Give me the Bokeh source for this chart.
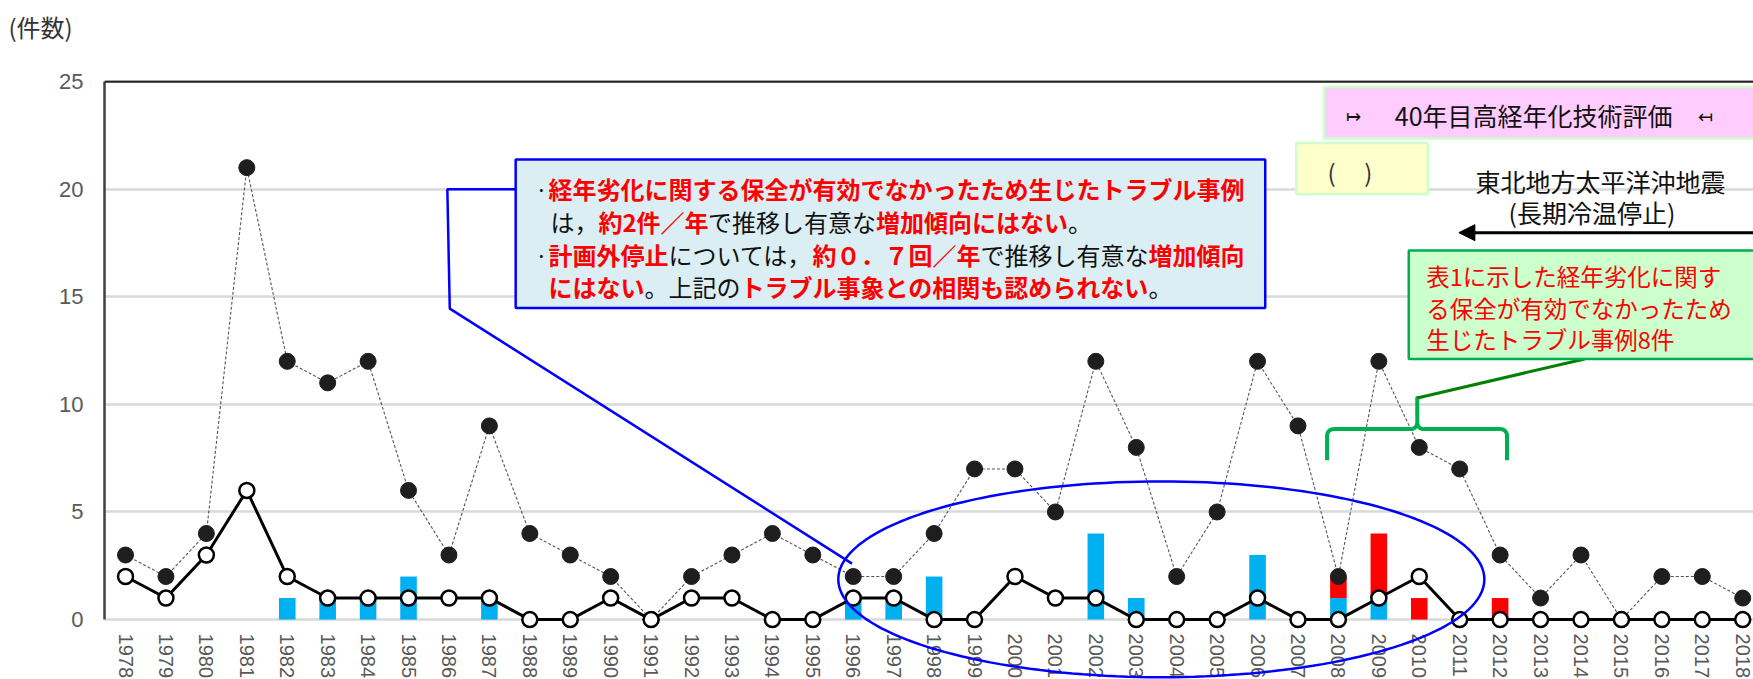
import math
import numpy as np
from bokeh.plotting import figure
from bokeh.models import (Range1d, FixedTicker, Label, BoxAnnotation, PolyAnnotation,
                          Arrow, NormalHead, Span, ColumnDataSource, Title)
from bokeh.embed import file_html
from bokeh.resources import INLINE

# ---------------- data ----------------
years = [1978, 1979, 1980, 1981, 1982, 1983, 1984, 1985, 1986, 1987,
         1988, 1989, 1990, 1991, 1992, 1993, 1994, 1995, 1996, 1997,
         1998, 1999, 2000, 2001, 2002, 2003, 2004, 2005, 2006, 2007,
         2008, 2009, 2010, 2011, 2012, 2013, 2014, 2015, 2016, 2017, 2018]
year_labels = [str(y) for y in years]

# black dots (dotted line): all trouble events
troubles = [3, 2, 4, 21, 12, 11, 12, 6, 3, 9,
            4, 3, 2, 0, 2, 3, 4, 3, 2, 2,
            4, 7, 7, 5, 12, 8, 2, 5, 12, 9,
            2, 12, 8, 7, 3, 1, 3, 0, 2, 2, 1]
# open circles (solid line): unplanned shutdowns
shutdowns = [2, 1, 3, 6, 2, 1, 1, 1, 1, 1,
             0, 0, 1, 0, 1, 1, 0, 0, 1, 1,
             0, 0, 2, 1, 1, 0, 0, 0, 1, 0,
             0, 1, 2, 0, 0, 0, 0, 0, 0, 0, 0]
# bars: aging-related troubles (blue) and those of table 1 (red)
aging_blue = [0, 0, 0, 0, 1, 1, 1, 2, 0, 1,
              0, 0, 0, 0, 0, 0, 0, 0, 1, 1,
              2, 0, 0, 0, 4, 1, 0, 0, 3, 0,
              1, 1, 0, 0, 0, 0, 0, 0, 0, 0, 0]
aging_red = [0, 0, 0, 0, 0, 0, 0, 0, 0, 0,
             0, 0, 0, 0, 0, 0, 0, 0, 0, 0,
             0, 0, 0, 0, 0, 0, 0, 0, 0, 0,
             1, 3, 1, 0, 1, 0, 0, 0, 0, 0, 0]
y_ticks = [0, 5, 10, 15, 20, 25]

src = ColumnDataSource(dict(year=years, troubles=troubles, shutdowns=shutdowns,
                            blue=aging_blue, red=aging_red))

JP = "Noto Sans CJK JP"

p = figure(width=1753, height=679,
           x_range=Range1d(1977.48, 2018.267), y_range=Range1d(-2.785, 25.05),
           output_backend="svg", toolbar_location=None,
           min_border_left=104, min_border_right=0, min_border_top=80, min_border_bottom=0)
p.background_fill_color = "white"
p.border_fill_color = "white"
p.outline_line_color = None

# unit label (outer title) and a spacer title next to the frame
p.title.text = "(件数)"
p.title.align = "left"
p.title.offset = -96
p.title.text_font = JP
p.title.text_font_size = "24px"
p.title.text_font_style = "normal"
p.title.text_color = "#333333"
p.add_layout(Title(text="\u3000", text_font=JP, text_font_size="14px"), "above")

# axes
p.xaxis.fixed_location = 0
p.xaxis.ticker = FixedTicker(ticks=years)
p.xaxis.major_label_overrides = {y: l for y, l in zip(years, year_labels)}
p.xaxis.major_label_orientation = -math.pi / 2
p.xaxis.major_label_text_font = "Liberation Sans"
p.xaxis.major_label_text_font_size = "20px"
p.xaxis.major_label_text_color = "#595959"
p.xaxis.axis_line_color = None
p.xaxis.major_tick_line_color = None
p.xaxis.minor_tick_line_color = None
p.xaxis.major_tick_out = 0
p.xaxis.major_tick_in = 0
p.xaxis.major_label_standoff = 14

p.yaxis.ticker = FixedTicker(ticks=y_ticks)
p.yaxis.major_label_text_font = "Liberation Sans"
p.yaxis.major_label_text_font_size = "22px"
p.yaxis.major_label_text_color = "#595959"
p.yaxis.axis_line_color = "#404040"
p.yaxis.axis_line_width = 2.5
p.yaxis.bounds = (0, 25)
p.yaxis.major_tick_line_color = None
p.yaxis.minor_tick_line_color = None
p.yaxis.major_tick_out = 0
p.yaxis.major_tick_in = 0
p.yaxis.major_label_standoff = 21

p.xgrid.visible = False
p.ygrid.grid_line_color = "#D9D9D9"
p.ygrid.grid_line_width = 2.5

# top border
p.add_layout(Span(location=25, dimension="width", line_color="#262626", line_width=2.5))

# bars
p.vbar_stack(["blue", "red"], x="year", width=0.41, source=src,
             color=["#00B0F0", "#FF0000"], line_color=None)

# dotted series with black dots
p.line("year", "troubles", source=src, line_color="#555555", line_width=1.1, line_dash="3 2")
p.scatter("year", "troubles", source=src, size=16, fill_color="#1E1E1E", line_color="#1E1E1E")

# solid series with open circles
p.line("year", "shutdowns", source=src, line_color="black", line_width=3)
p.scatter("year", "shutdowns", source=src, size=15, fill_color="white", line_color="black", line_width=2.5)

# ---------------- annotations ----------------
# blue callout box
p.add_layout(BoxAnnotation(left=1987.65, right=2006.19, bottom=14.48, top=21.38,
                           fill_color="#DAEEF3", fill_alpha=1, line_color="#0000FF",
                           line_width=2.5, line_alpha=1))
p.line([1987.65, 1985.96, 1986.02, 1995.97], [20.0, 20.0, 14.45, 2.60],
       line_color="#0000FF", line_width=2.5)

# blue ellipse
t = np.linspace(0, 2 * np.pi, 181)
ex = 2003.62 + 7.99 * np.cos(t)
ey = 1.87 + 4.55 * np.sin(t)
p.add_layout(PolyAnnotation(xs=list(ex), ys=list(ey), xs_units="data", ys_units="data",
                            fill_alpha=0, line_color="#0000FF", line_width=2.5, line_alpha=1))

FS = 24

def seg_width(s, fs):
    w = 0.0
    for ch in s:
        o = ord(ch)
        if o >= 0x2E80 or 0xFF00 <= o <= 0xFFEF:
            w += fs
        elif ch == " ":
            w += 0.25 * fs
        else:
            w += 0.56 * fs
    return w

def rich_line(x0, y, segments, fs=FS):
    off = 0.0
    for text, color, bold in segments:
        p.add_layout(Label(x=x0, y=y, x_offset=off, text=text, text_font=JP,
                           text_font_size=f"{fs}px", text_color=color,
                           text_font_style="bold" if bold else "normal",
                           text_baseline="middle", text_align="left"))
        off += seg_width(text, fs)

RED = "#FF0000"
BLK = "#111111"
for yb in (20.04, 16.98):
    p.add_layout(Label(x=1988.29, y=yb, text="·", text_font=JP, text_font_size="22px",
                       text_color=BLK, text_baseline="middle", text_align="center"))
rich_line(1988.46, 20.04, [("経年劣化に関する保全が有効でなかったため生じたトラブル事例", RED, True)])
rich_line(1988.51, 18.51, [("は，", BLK, False), ("約2件／年", RED, True),
                           ("で推移し有意な", BLK, False), ("増加傾向にはない", RED, True),
                           ("。", BLK, False)])
rich_line(1988.46, 16.98, [("計画外停止", RED, True), ("については，", BLK, False),
                           ("約０．７回／年", RED, True), ("で推移し有意な", BLK, False),
                           ("増加傾向", RED, True)])
rich_line(1988.46, 15.49, [("にはない", RED, True), ("。上記の", BLK, False),
                           ("トラブル事象との相関も認められない", RED, True), ("。", BLK, False)])

# pink box
p.add_layout(BoxAnnotation(left=2007.64, right=2019.5, bottom=22.35, top=24.75,
                           fill_color="#FFCCFF", fill_alpha=1, line_color="#CCFFCC",
                           line_width=2.5, line_alpha=1))
p.add_layout(Label(x=2008.37, y=23.47, text="↦", text_font=JP, text_font_size="18px",
                   text_color=BLK, text_baseline="middle", text_align="center"))
p.add_layout(Label(x=2012.83, y=23.47, text="40年目高経年化技術評価", text_font=JP,
                   text_font_size="25px", text_color=BLK, text_baseline="middle",
                   text_align="center"))
p.add_layout(Label(x=2017.08, y=23.47, text="↤", text_font=JP, text_font_size="18px",
                   text_color=BLK, text_baseline="middle", text_align="center"))

# yellow box
p.add_layout(BoxAnnotation(left=2006.955, right=2010.21, bottom=19.76, top=22.15,
                           fill_color="#FFFFCC", fill_alpha=1, line_color="#CCFFCC",
                           line_width=2.5, line_alpha=1))
p.add_layout(Label(x=2007.83, y=20.80, text="(", text_font=JP, text_font_size="24px",
                   text_color="#333333", text_baseline="middle", text_align="center"))
p.add_layout(Label(x=2008.74, y=20.80, text=")", text_font=JP, text_font_size="24px",
                   text_color="#333333", text_baseline="middle", text_align="center"))

# earthquake text and arrow
p.add_layout(Label(x=2014.48, y=20.37, text="東北地方太平洋沖地震", text_font=JP,
                   text_font_size="25px", text_color=BLK, text_baseline="middle",
                   text_align="center"))
p.add_layout(Label(x=2014.27, y=18.94, text="(長期冷温停止)", text_font=JP,
                   text_font_size="25px", text_color=BLK, text_baseline="middle",
                   text_align="center"))
p.add_layout(Arrow(end=NormalHead(size=16, fill_color="black", line_color="black"),
                   x_start=2018.6, y_start=17.98, x_end=2010.98, y_end=17.98,
                   line_color="black", line_width=3))

# green box
p.add_layout(BoxAnnotation(left=2009.74, right=2019.5, bottom=12.11, top=17.15,
                           fill_color="#CCFFCC", fill_alpha=1, line_color="#00B050",
                           line_width=2.5, line_alpha=1))
for txt, yy in (("表1に示した経年劣化に関す", 15.95),
                ("る保全が有効でなかったため", 14.50),
                ("生じたトラブル事例8件", 13.06)):
    p.add_layout(Label(x=2010.17, y=yy, text=txt, text_font=JP, text_font_size="23.5px",
                       text_color=RED, text_baseline="middle", text_align="left"))

# green brace
x0, x1, xc = 2007.72, 2012.17, 2009.95
yb, ybar, ytip = 7.40, 8.85, 10.30
rx, ry = 0.16, 0.30

def arc(cx, cy, a0, a1, n=10):
    a = np.linspace(a0, a1, n)
    return list(cx + rx * np.cos(a)), list(cy + ry * np.sin(a))

bx, by = [x0], [yb]
ax_, ay_ = arc(x0 + rx, ybar - ry, np.pi, np.pi / 2); bx += ax_; by += ay_
ax_, ay_ = arc(xc - rx, ybar + ry, -np.pi / 2, 0); bx += ax_; by += ay_
bx += [xc]; by += [ytip]
ax_, ay_ = arc(xc + rx, ybar + ry, np.pi, 3 * np.pi / 2); bx += ax_; by += ay_
ax_, ay_ = arc(x1 - rx, ybar - ry, np.pi / 2, 0); bx += ax_; by += ay_
bx += [x1]; by += [yb]
p.line(bx, by, line_color="#00B050", line_width=4, line_join="round", line_cap="butt")
p.line([xc, 2014.09], [ytip, 12.11], line_color="#008000", line_width=3)

open("out.html", "w").write(file_html(p, INLINE))
